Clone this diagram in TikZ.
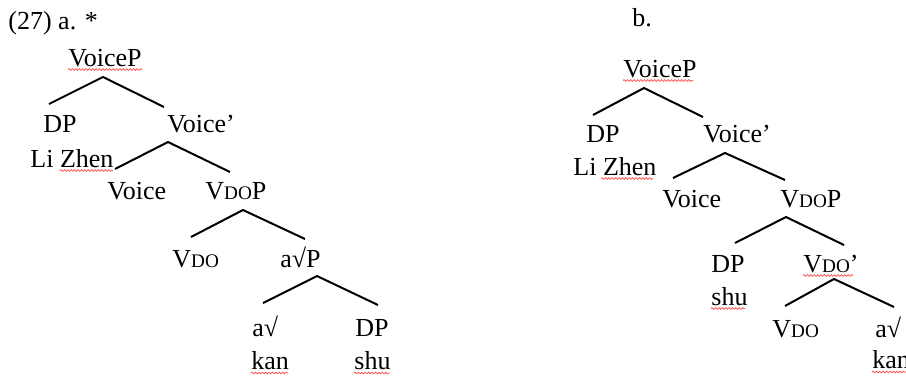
\documentclass[tikz,border=0pt]{standalone}
\usepackage{fontspec}
\setmainfont{Liberation Serif}
\usetikzlibrary{decorations.pathmorphing}
\newcommand{\vdo}{V{\fontsize{9.6}{10}\selectfont DO}}
\begin{document}
\begin{tikzpicture}[x=0.5pt,y=-0.5pt,
 lab/.style={inner sep=0pt, anchor=base west, font=\fontsize{13}{15}\selectfont},
 branch/.style={line width=1pt},
 spell/.style={draw=red!70!white, line width=0.35pt, decorate, decoration={snake, amplitude=0.45pt, segment length=1.7pt}}]
\useasboundingbox (0,0) rectangle (906,376);
\clip (0,0) rectangle (906,376);
% ---------------- (a)
\node[lab] (exa) at (8,29) {(27) a. *};
\node[lab] (aVoiceP) at (68,66) {VoiceP};
\node[lab] (aDP) at (43,132) {DP};
\node[lab] (aVoicebar) at (167,132) {Voice’};
\node[lab] (aLi) at (30,167) {Li Zhen};
\node[lab] (aVoice) at (107,199) {Voice};
\node[lab] (aVdoP) at (205,199) {\vdo P};
\node[lab] (aVdo) at (172,267) {\vdo};
\node[lab] (aaP) at (280,267) {a√P};
\node[lab] (aa) at (252,336) {a√};
\node[lab] (aDP2) at (355,336) {DP};
\node[lab] (akan) at (251,369) {kan};
\node[lab] (ashu) at (354,369) {shu};
% branch points (a)
\coordinate (a1t) at (103,77);  \coordinate (a1l) at (49,104);  \coordinate (a1r) at (164,107);
\coordinate (a2t) at (168,142); \coordinate (a2l) at (115,169); \coordinate (a2r) at (230,172);
\coordinate (a3t) at (243,210); \coordinate (a3l) at (191,237); \coordinate (a3r) at (305,239);
\coordinate (a4t) at (317,276); \coordinate (a4l) at (263,303); \coordinate (a4r) at (378,305);
\draw[branch] (a1l) -- (a1t) -- (a1r);
\draw[branch] (a2l) -- (a2t) -- (a2r);
\draw[branch] (a3l) -- (a3t) -- (a3r);
\draw[branch] (a4l) -- (a4t) -- (a4r);
% spell-check marks (a)
\draw[spell] (68,69.5) -- (142,69.5);
\draw[spell] (60,170.5) -- (113,170.5);
\draw[spell] (251,373) -- (288,373);
\draw[spell] (354,373) -- (390,373);
% ---------------- (b)
\node[lab] (exb) at (632,26) {b.};
\node[lab] (bVoiceP) at (623,77) {VoiceP};
\node[lab] (bDP) at (586,142) {DP};
\node[lab] (bVoicebar) at (703,142) {Voice’};
\node[lab] (bLi) at (573,175) {Li Zhen};
\node[lab] (bVoice) at (662,207) {Voice};
\node[lab] (bVdoP) at (780,207) {\vdo P};
\node[lab] (bDP2) at (711,272) {DP};
\node[lab] (bVdobar) at (803,272) {\vdo’};
\node[lab] (bshu) at (711,305) {shu};
\node[lab] (bVdo) at (772,337) {\vdo};
\node[lab] (ba) at (875,337) {a√};
\node[lab] (bkan) at (872,368) {kan};
% branch points (b)
\coordinate (b1t) at (644,88);  \coordinate (b1l) at (593,115); \coordinate (b1r) at (703,117);
\coordinate (b2t) at (725,153); \coordinate (b2l) at (673,178); \coordinate (b2r) at (785,180);
\coordinate (b3t) at (786,217); \coordinate (b3l) at (735,243); \coordinate (b3r) at (844,245);
\coordinate (b4t) at (834,279); \coordinate (b4l) at (785,306); \coordinate (b4r) at (894,307);
\draw[branch] (b1l) -- (b1t) -- (b1r);
\draw[branch] (b2l) -- (b2t) -- (b2r);
\draw[branch] (b3l) -- (b3t) -- (b3r);
\draw[branch] (b4l) -- (b4t) -- (b4r);
% spell-check marks (b)
\draw[spell] (623,80.5) -- (693,80.5);
\draw[spell] (601,178.5) -- (653,178.5);
\draw[spell] (711,308.5) -- (745,308.5);
\draw[spell] (803,275.5) -- (853,275.5);
\draw[spell] (872,372) -- (906,372);
\end{tikzpicture}
\end{document}
